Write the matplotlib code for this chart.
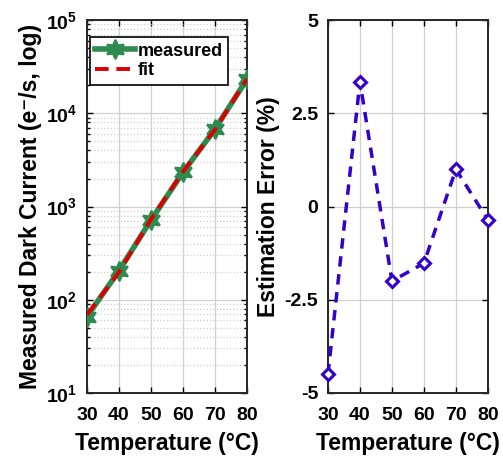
import numpy as np
import matplotlib.pyplot as plt
from matplotlib.ticker import LogLocator, NullFormatter, FuncFormatter

plt.rcParams['font.family'] = ['Liberation Sans', 'DejaVu Sans']
plt.rcParams['font.weight'] = 'bold'
plt.rcParams['axes.unicode_minus'] = False
plt.rcParams['mathtext.fontset'] = 'custom'
plt.rcParams['mathtext.rm'] = 'Liberation Sans:bold'
plt.rcParams['mathtext.bf'] = 'Liberation Sans:bold'

# data
temps = [30, 40, 50, 60, 70, 80]
measured = [66, 205, 716, 2330, 6770, 23300]
fit = [69, 198, 730, 2365, 6700, 23400]
est_error = [-4.5, 3.35, -2.0, -1.52, 1.0, -0.36]

x_ticks = [30, 40, 50, 60, 70, 80]
err_ticks = [-5, -2.5, 0, 2.5, 5]
err_labels = ['-5', '-2.5', '0', '2.5', '5']

green = '#2e8b4f'
blue = '#3300cc'
tick_fs = 14
label_fs = 16.5

fig = plt.figure(figsize=(5.03, 4.59), dpi=100)
ax1 = fig.add_axes([0.173, 0.144, 0.318, 0.812])
ax2 = fig.add_axes([0.652, 0.144, 0.318, 0.812])

# left: dark current vs temperature
ax1.plot(temps, measured, color=green, linewidth=4, marker=(6, 1, 0),
         markersize=14, markeredgewidth=1.5, markeredgecolor=green,
         label='measured', zorder=3)
ax1.plot(temps, fit, color='#dd0000', linewidth=2.8, linestyle=(0, (3.5, 2)),
         label='fit', zorder=4)
ax1.set_yscale('log')
ax1.set_xlim(30, 80)
ax1.set_ylim(10, 1e5)
ax1.set_xticks(x_ticks)
ax1.yaxis.set_major_locator(LogLocator(base=10, numticks=10))
ax1.yaxis.set_major_formatter(FuncFormatter(
    lambda v, p: r'$\mathregular{10^{%d}}$' % round(np.log10(v))))
ax1.yaxis.set_minor_locator(LogLocator(base=10, subs=np.arange(2, 10), numticks=20))
ax1.yaxis.set_minor_formatter(NullFormatter())
ax1.grid(True, which='major', color='#d0d0d0', linewidth=0.9)
ax1.grid(True, which='minor', axis='y', color='#d0d0d0', linestyle=':', linewidth=0.9)
ax1.set_xlabel('Temperature (°C)', fontsize=label_fs, fontweight='bold',
               labelpad=6)
ax1.set_ylabel('Measured Dark Current (e⁻/s, log)', fontsize=label_fs,
               fontweight='bold', labelpad=3)
leg = ax1.legend(loc='upper left', bbox_to_anchor=(0.019, 0.954),
                 fontsize=13, frameon=True, fancybox=False,
                 edgecolor='black', framealpha=1, borderaxespad=0,
                 handlelength=2.2, handletextpad=0.15, borderpad=0.3,
                 labelspacing=0.15)
leg.get_frame().set_linewidth(1.2)
for t in leg.get_texts():
    t.set_fontweight('bold')

# right: estimation error
ax2.plot(temps, est_error, color=blue, linewidth=2.5, linestyle=(0, (3, 2.2)),
         marker='D', markersize=6.5, markerfacecolor='white',
         markeredgecolor=blue, markeredgewidth=2.2, zorder=3, clip_on=False)
ax2.set_xlim(30, 80)
ax2.set_ylim(-5, 5)
ax2.set_xticks(x_ticks)
ax2.set_yticks(err_ticks)
ax2.set_yticklabels(err_labels)
ax2.grid(True, color='#d0d0d0', linewidth=0.9)
ax2.set_xlabel('Temperature (°C)', fontsize=label_fs, fontweight='bold',
               labelpad=6)
ax2.set_ylabel('Estimation Error (%)', fontsize=label_fs, fontweight='bold',
               labelpad=3)

for ax in (ax1, ax2):
    ax.set_axisbelow(True)
    ax.tick_params(which='both', direction='in', top=True, right=True,
                   labelsize=tick_fs, width=1, length=4, pad=7)
    ax.tick_params(axis='x', which='major', pad=10)
    ax.tick_params(which='minor', length=2)
    for s in ax.spines.values():
        s.set_linewidth(1.4)
        s.set_color('#262626')
    for lbl in ax.get_xticklabels() + ax.get_yticklabels():
        lbl.set_fontweight('bold')

fig.savefig('out.png', dpi=100)
